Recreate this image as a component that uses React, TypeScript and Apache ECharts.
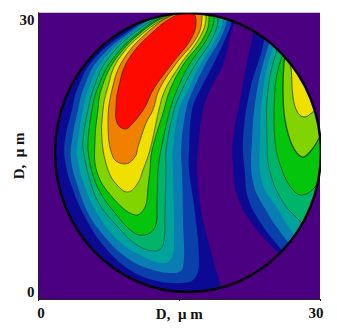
import React, { useEffect, useRef } from "react";
import * as echarts from "echarts";

type Pt = number[];

const X_TICKS = [0, 15, 30];
const AXIS_NAME = "D,  μ m";

const RIM_CENTER: Pt = [15.93, 15.35];
const RIM_RADII: Pt = [14.17, 14.62];

const L_NAVY: Pt[] = [[21.05,30.5],[20.41,27.45],[19.66,24.52],[18.28,21.9],[17.53,19.81],[17,15.61],[16.89,13.52],[17.42,8.8],[18.49,4.61],[19.34,1.47],[19.77,-1],[-1,-1],[-1,31],[20,31.5]];
const L_BLUE: Pt[] = [[20.62,29.45],[19.98,27.45],[18.6,24.52],[17.21,21.9],[16.36,19.81],[16.04,15.61],[16.04,13.52],[16.68,9.01],[17.1,4.09],[16.68,2.2],[15.4,1.68],[12.2,1.99],[9.43,3.25],[6.87,5.66],[4.96,8.59],[3.57,11.74],[2.82,14.57],[2.82,16.66],[3.57,19.81],[4.1,21.9],[5.81,25.04],[9.75,28.19],[13.16,29.86],[20.09,30.6]];
const L_STEEL: Pt[] = [[20.09,29.55],[19.45,27.45],[17.74,24.52],[16.47,21.9],[15.72,19.81],[15.19,15.61],[15.29,13.52],[15.4,8.28],[15.4,3.35],[14.55,2.72],[11.56,3.25],[9.01,4.61],[6.55,7.13],[5.28,9.01],[4.21,11.74],[3.46,14.57],[3.57,16.66],[4.21,19.81],[4.74,21.9],[6.34,25.04],[10.07,28.19],[13.37,29.86],[19.56,30.6]];
const L_TEAL: Pt[] = [[19.66,29.55],[19.02,27.45],[17.21,24.52],[15.93,21.9],[14.97,19.81],[14.33,15.61],[14.33,13.52],[14.44,6.5],[14.23,4.4],[13.27,3.77],[10.82,4.61],[8.69,5.97],[6.55,8.49],[4.96,11.74],[4.1,15.09],[4.21,16.66],[4.74,19.81],[5.28,21.9],[6.87,25.04],[10.39,28.19],[13.59,29.86],[19.02,30.6]];
const L_TG: Pt[] = [[19.13,29.55],[18.6,27.45],[16.68,24.52],[15.29,21.9],[14.44,19.81],[13.59,15.61],[13.59,13.52],[13.48,9.33],[13.27,5.66],[12.42,5.03],[10.5,5.66],[8.37,7.65],[6.55,9.85],[5.7,11.74],[4.85,15.09],[4.74,16.66],[5.28,19.81],[5.81,21.9],[7.3,25.04],[10.6,28.19],[13.8,29.86],[18.49,30.6]];
const L_GREEN: Pt[] = [[18.7,29.55],[18.06,27.45],[16.04,24.52],[14.76,21.9],[14.01,19.81],[13.05,15.61],[12.74,13.52],[12.63,10.06],[12.42,7.54],[11.35,6.71],[10.07,7.02],[8.15,9.01],[6.55,11.21],[5.7,13.31],[5.28,15.61],[5.28,16.66],[5.7,19.81],[6.23,21.9],[7.83,25.04],[11.03,28.19],[14.01,29.86],[17.96,30.6]];
const L_LIME: Pt[] = [[18.17,29.55],[17.64,27.45],[15.4,24.52],[14.01,21.9],[13.37,19.81],[12.1,15.61],[11.88,13.52],[11.67,11.74],[11.35,9.64],[10.28,8.8],[7.94,10.58],[6.23,13.31],[6.02,16.66],[6.34,19.81],[6.66,21.9],[8.15,25.04],[11.24,28.19],[14.23,29.86],[17.53,30.6]];
const L_YELLOW: Pt[] = [[17.85,29.55],[17.21,27.45],[15.08,24.52],[13.48,21.9],[12.84,19.81],[11.88,15.61],[11.14,13.52],[10.6,12.16],[9.54,11.21],[8.37,11.95],[7.41,13.52],[6.77,16.66],[6.87,19.81],[7.3,21.9],[8.47,25.04],[11.56,28.19],[14.55,29.86],[17.21,30.6]];
const L_ORANGE: Pt[] = [[17.42,29.55],[16.89,27.45],[14.55,24.52],[12.84,21.9],[12.2,19.81],[11.46,18.44],[10.6,15.93],[10.28,14.88],[9.22,14.15],[7.94,14.88],[7.41,18.44],[7.83,21.9],[9.01,25.04],[11.88,28.19],[14.76,30],[17,30.5]];
const L_RED: Pt[] = [[16.78,29.45],[16.36,27.45],[14.12,24.52],[12.2,21.9],[11.35,20.12],[10.07,18.44],[9.22,17.81],[8.37,18.44],[8.26,20.12],[8.47,21.9],[9.54,25.04],[12.42,28.19],[14.76,29.76],[16.15,30]];

const R_NAVY: Pt[] = [[23.29,29.24],[22.86,27.66],[22,23.68],[21.69,21.9],[20.73,16.66],[20.73,13.83],[21.26,10.58],[22.86,7.75],[25.42,4.93],[27.3,3.04],[32,3],[32,31],[24,31]];
const R_BLUE: Pt[] = [[24.14,27.66],[23.82,26.09],[22.54,21.9],[21.79,16.66],[22,13.2],[22.33,10.58],[23.61,8.07],[25.74,5.34],[27.34,3.56],[32,3.5],[32,31],[25,31]];
const R_STEEL: Pt[] = [[24.88,27.66],[24.35,26.09],[23.29,21.9],[22.75,16.66],[22.86,12.26],[24.35,9.12],[26.59,5.97],[27.87,4.61],[32,4.6],[32,31],[26,31]];
const R_TEAL: Pt[] = [[25.42,27.35],[24.88,26.09],[23.93,21.9],[23.61,16.66],[23.82,12.26],[25.42,9.54],[27.12,6.92],[28.4,5.66],[32,5.7],[32,31],[27,31]];
const R_TG: Pt[] = [[26.06,26.93],[25.42,26.09],[24.46,21.9],[24.35,16.66],[24.67,13.31],[26.06,10.16],[28.08,7.96],[29.47,6.71],[32,6.7],[32,31],[28,31]];
const R_GREEN: Pt[] = [[26.27,26.09],[25.52,24],[25.2,21.9],[25.2,16.66],[25.95,13.52],[27.12,11.42],[28.19,10.9],[29.47,11.74],[30.2,13.2],[32,15.6],[32,31],[29,31]];
const R_LIME: Pt[] = [[26.48,26.09],[26.17,24.73],[26.06,21.59],[26.27,18.76],[27.02,16.14],[28.08,14.88],[28.93,15.4],[29.79,16.66],[30.55,18.23],[32,20.85],[32,31],[29,31]];
const R_YELLOW: Pt[] = [[26.59,25.25],[26.91,24.21],[27.12,21.17],[27.65,19.49],[28.4,19.07],[29.25,19.6],[30.55,20.33],[32,21.9],[32,29],[28,29]];

const C = {
  bg: "#4b0082",
  navy: "#0c0a92",
  blue: "#0a40aa",
  steel: "#0a7eb2",
  teal: "#00a29c",
  tg: "#00b46a",
  green: "#04c40c",
  lime: "#82d400",
  yellow: "#f0e000",
  orange: "#f08000",
  red: "#ff0a00",
};
const LINE = "rgba(10,30,20,0.75)";

const BANDS: { pts: Pt[]; fill: string; line: number }[] = [
  { pts: L_NAVY, fill: C.navy, line: 0 },
  { pts: L_BLUE, fill: C.blue, line: 0 },
  { pts: L_STEEL, fill: C.steel, line: 0 },
  { pts: L_TEAL, fill: C.teal, line: 0 },
  { pts: L_TG, fill: C.tg, line: 0.6 },
  { pts: L_GREEN, fill: C.green, line: 0.8 },
  { pts: L_LIME, fill: C.lime, line: 0.8 },
  { pts: L_YELLOW, fill: C.yellow, line: 0.8 },
  { pts: L_ORANGE, fill: C.orange, line: 0.8 },
  { pts: L_RED, fill: C.red, line: 0.8 },
  { pts: R_NAVY, fill: C.navy, line: 0 },
  { pts: R_BLUE, fill: C.blue, line: 0 },
  { pts: R_STEEL, fill: C.steel, line: 0 },
  { pts: R_TEAL, fill: C.teal, line: 0 },
  { pts: R_TG, fill: C.tg, line: 0.6 },
  { pts: R_GREEN, fill: C.green, line: 0.8 },
  { pts: R_LIME, fill: C.lime, line: 1.2 },
  { pts: R_YELLOW, fill: C.yellow, line: 0.9 },
];

const FONT = '"Liberation Serif", "Times New Roman", serif';

export default function App() {
  const ref = useRef<HTMLDivElement>(null);
  useEffect(() => {
    const chart = echarts.init(ref.current!, undefined, { renderer: "svg" });
    const labelBase = { fontFamily: FONT, fontWeight: "bold" as const, fontSize: 15, color: "#111" };
    chart.setOption({
      animation: false,
      backgroundColor: "#fff",
      grid: { left: 38.5, right: 17, top: 12.7, bottom: 34, show: true, backgroundColor: C.bg, borderWidth: 0, outerBoundsMode: "none" },
      xAxis: {
        type: "value", min: 0, max: 30, interval: 15,
        name: AXIS_NAME, nameLocation: "middle", nameGap: 7, nameMoveOverlap: false,
        nameTextStyle: { ...labelBase, verticalAlign: "top" },
        axisLine: { show: true, onZero: false, lineStyle: { color: "#222", width: 1 } },
        axisTick: { show: true, length: 2, lineStyle: { color: "#222" } },
        splitLine: { show: false },
        axisLabel: {
          ...labelBase, margin: 6,
          formatter: (v: number) => (v === X_TICKS[1] ? "" : v === X_TICKS[0] ? `{z|${v}}` : `{r|${v}}`),
          rich: {
            z: { ...labelBase, padding: [0, 0, 0, 5] },
            r: { ...labelBase, padding: [0, 8, 0, 0] },
          },
        },
      },
      yAxis: {
        type: "value", min: 0, max: 30, interval: 30,
        name: AXIS_NAME, nameLocation: "middle", nameGap: 12, nameMoveOverlap: false,
        nameRotate: 90,
        nameTextStyle: { ...labelBase, verticalAlign: "bottom" },
        axisLine: { show: true, onZero: false, lineStyle: { color: "#222", width: 1 } },
        axisTick: { show: false },
        splitLine: { show: false },
        axisLabel: { ...labelBase, margin: 4, verticalAlignMinLabel: "bottom", verticalAlignMaxLabel: "top" },
      },
      series: [
        {
          type: "custom",
          clip: true,
          coordinateSystem: "cartesian2d",
          data: [...BANDS.map((_, i) => [0, 0, i]), [0, 0, BANDS.length]],
          renderItem: (params: any, api: any) => {
            const i = params.dataIndex;
            const toPx = (pts: Pt[]) => pts.map((p) => api.coord(p));
            const [cx, cy] = api.coord(RIM_CENTER);
            const [rx, ry] = api.size(RIM_RADII);
            const rim = { cx, cy, rx, ry };
            if (i === BANDS.length) {
              return {
                type: "ellipse",
                shape: rim,
                style: { fill: "none", stroke: "#050008", lineWidth: 2.4 },
              };
            }
            const b = BANDS[i];
            return {
              type: "polygon",
              shape: { points: toPx(b.pts), smooth: 0.4 },
              style: { fill: b.fill, stroke: b.line ? LINE : "none", lineWidth: b.line },
              clipPath: { type: "ellipse", shape: rim },
            };
          },
        },
      ],
    });
    return () => chart.dispose();
  }, []);
  return <div ref={ref} style={{ position: "fixed", left: 0, top: 0, width: 337, height: 333 }} />;
}
